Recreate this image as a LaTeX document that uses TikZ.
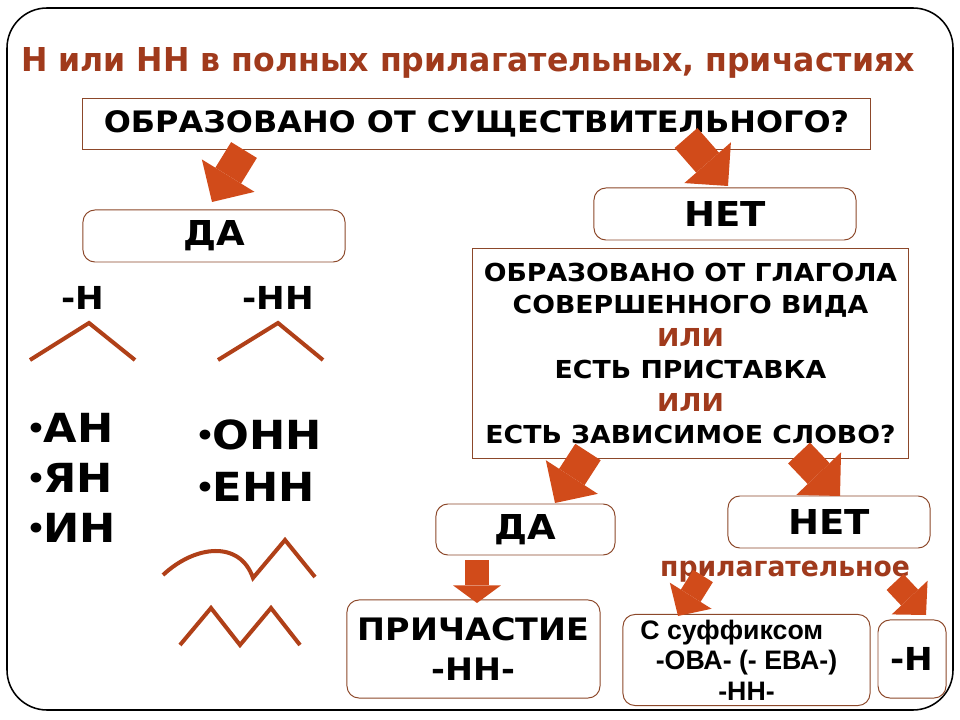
\documentclass[tikz,border=0pt]{standalone}
\usepackage{fontspec}
\usetikzlibrary{arrows.meta}
\setmainfont{Liberation Sans}
\newfontfamily\heavyfont[FakeStretch=1.08]{DejaVu Sans}
\newfontfamily\titlefont[FakeStretch=0.96]{DejaVu Sans}
\definecolor{arrowred}{RGB}{209,75,26}
\definecolor{brownred}{RGB}{160,58,28}
\definecolor{linebrown}{RGB}{176,64,24}
\definecolor{boxedge}{RGB}{140,72,42}
\newcommand{\heavy}[2]{\heavyfont\bfseries\fontsize{#1}{#2}\selectfont}
\newcommand{\dotmark}{{\fontsize{20}{20}\selectfont\raisebox{3pt}{•}}\kern-1.5pt}
\tikzset{
	sqbox/.style={draw=boxedge, line width=0.7pt, inner sep=0pt, align=center},
	rndbox/.style={sqbox, rounded corners=0.3cm},
	bigarrow/.style={draw=arrowred, line width=21.5pt, -{Triangle[length=22pt, width=44pt, line width=0pt]}},
	smallarrow/.style={draw=arrowred, line width=16.5pt, -{Triangle[length=17pt, width=35pt, line width=0pt]}},
	downarrow/.style={draw=arrowred, line width=16.4pt, -{Triangle[length=12.5pt, width=34pt, line width=0pt]}},
	stroke/.style={draw=linebrown, line width=2.85pt},
}

\begin{document}
\begin{tikzpicture}[x=0.025cm, y=-0.025cm]
		%%%%% START %%%%%
		\useasboundingbox (0, 0) rectangle (960, 720);
		\draw[line width=1.1pt, rounded corners=1cm] (7, 8) rectangle (953, 710);
		
		\node[anchor=base, text=brownred, font=\titlefont\bfseries\fontsize{23.4}{28}\selectfont] (title) at (468, 72) {Н или НН в полных прилагательных, причастиях};
		
		% boxes
		\node[sqbox, minimum width=19.675cm, minimum height=1.25cm, font=\heavy{21}{24}] (q1) at (476.5, 124) {ОБРАЗОВАНО ОТ СУЩЕСТВИТЕЛЬНОГО?};
		\node[rndbox, minimum width=6.55cm, minimum height=1.3cm, font=\heavy{24.4}{28}] (yes1) at (214, 236) {ДА};
		\node[rndbox, minimum width=6.55cm, minimum height=1.3cm, font=\heavy{24.4}{28}] (no1) at (725, 214) {НЕТ};
		\node[sqbox, minimum width=10.875cm, minimum height=5.225cm, font=\heavy{17.6}{23.1}] (q2) at (690.5, 353.5) {ОБРАЗОВАНО ОТ ГЛАГОЛА\\СОВЕРШЕННОГО ВИДА\\\textcolor{brownred}{ИЛИ}\\ЕСТЬ ПРИСТАВКА\\\textcolor{brownred}{ИЛИ}\\ЕСТЬ ЗАВИСИМОЕ СЛОВО?};
		\node[rndbox, minimum width=4.475cm, minimum height=1.275cm, font=\heavy{24.4}{28}] (yes2) at (525.5, 529.5) {ДА};
		\node[rndbox, minimum width=5.05cm, minimum height=1.3cm, font=\heavy{24.4}{28}] (no2) at (829, 522) {НЕТ};
		\node[rndbox, minimum width=6.325cm, minimum height=2.45cm, font=\heavy{22}{28.5}] (partic) at (473.5, 649) {ПРИЧАСТИЕ\\-НН-};
		\node[rndbox, minimum width=6.175cm, minimum height=2.275cm, font=\bfseries\fontsize{19}{21.7}\selectfont] (adjsuff) at (746.5, 660) {С суффиксом\kern1.1em\\-ОВА- (- ЕВА-)\\-НН-};
		\node[rndbox, minimum width=1.7cm, minimum height=1.95cm, font=\heavy{22.5}{28}] (nsingle) at (912, 659) {-Н};
		\node[anchor=base, text=brownred, font=\titlefont\bfseries\fontsize{19.7}{22}\selectfont] (adjlabel) at (785, 576) {прилагательное};
		
		% block arrows
		\coordinate (a1s) at (244, 150); \coordinate (a1e) at (212, 202);
		\coordinate (a2s) at (686, 138); \coordinate (a2e) at (728, 186);
		\coordinate (a3s) at (588, 452); \coordinate (a3e) at (555, 503);
		\coordinate (a4s) at (799, 453); \coordinate (a4e) at (840, 496);
		\coordinate (a5s) at (477, 560); \coordinate (a5e) at (477, 603);
		\coordinate (a6s) at (703, 576); \coordinate (a6e) at (678, 616);
		\coordinate (a7s) at (895, 582); \coordinate (a7e) at (926, 615);
		\draw[bigarrow] (a1s) -- (a1e);
		\draw[bigarrow] (a2s) -- (a2e);
		\draw[bigarrow] (a3s) -- (a3e);
		\draw[bigarrow] (a4s) -- (a4e);
		\draw[downarrow] (a5s) -- (a5e);
		\draw[smallarrow] (a6s) -- (a6e);
		\draw[smallarrow] (a7s) -- (a7e);
		
		% left column
		\node[anchor=base, font=\heavy{22.5}{28}] (one) at (83, 310) {-Н};
		\node[anchor=base, font=\heavy{22.5}{28}] (two) at (278, 310) {-НН};
		\draw[stroke] (30, 360) -- (89, 323) -- (135, 360);
		\draw[stroke] (218, 360) -- (278, 323) -- (323, 360);
		\foreach \s [count=\i] in {АН, ЯН, ИН}
			\node[anchor=base west, inner sep=0pt, font=\heavy{28.5}{32}] (sfx\i) at (26, 443+50*\i-50) {\dotmark\s};
		\foreach \s [count=\i] in {ОНН, ЕНН}
			\node[anchor=base west, inner sep=0pt, font=\heavy{28.5}{34}] (dbl\i) at (195, 450+52*\i-52) {\dotmark\s};
		\draw[stroke] (163, 575) .. controls (195, 545) and (240, 540) .. (253, 578) -- (285, 540) -- (315, 577);
		\draw[stroke] (180, 645) -- (211, 608) -- (240, 645) -- (271, 608) -- (300, 645);
		%%%%% END %%%%%
\end{tikzpicture}
\end{document}
